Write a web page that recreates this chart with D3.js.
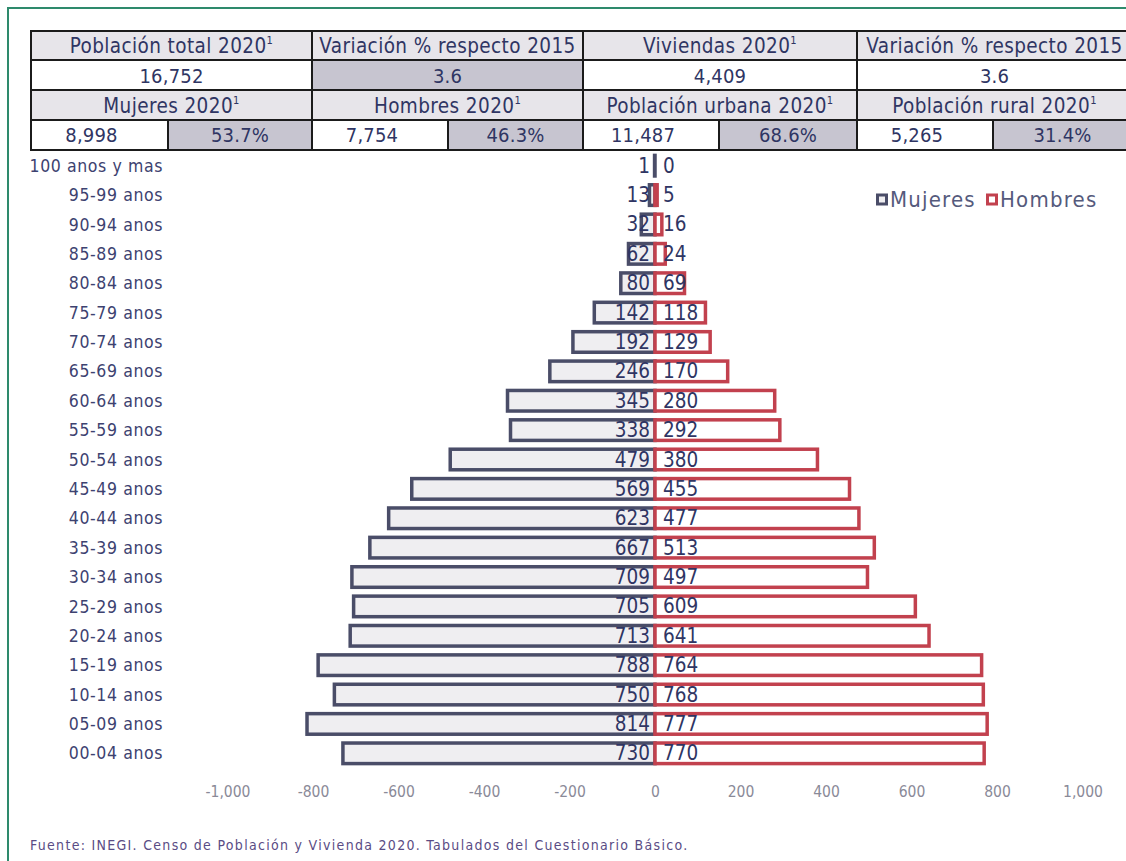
<!DOCTYPE html>
<html><head><meta charset="utf-8">
<script src="https://cdn.jsdelivr.net/npm/d3@7"></script>
<style>
html,body{margin:0;padding:0;background:#fff;}
svg{display:block;}
text{font-family:"Liberation Sans Narrow","DejaVu Sans Condensed","Roboto",sans-serif;}
</style></head>
<body>
<svg id="chart" width="1126" height="861"></svg>
<script>
// ---------- data ----------
const categories = ["100 anos y mas","95-99 anos","90-94 anos","85-89 anos","80-84 anos","75-79 anos","70-74 anos","65-69 anos","60-64 anos","55-59 anos","50-54 anos","45-49 anos","40-44 anos","35-39 anos","30-34 anos","25-29 anos","20-24 anos","15-19 anos","10-14 anos","05-09 anos","00-04 anos"];
const mujeres = [1,13,32,62,80,142,192,246,345,338,479,569,623,667,709,705,713,788,750,814,730];
const hombres = [0,5,16,24,69,118,129,170,280,292,380,455,477,513,497,609,641,764,768,777,770];
const tickValues = [-1000,-800,-600,-400,-200,0,200,400,600,800,1000];
const seriesNames = ["Mujeres","Hombres"];

const headerRow1 = ["Población total 2020","Variación % respecto 2015","Viviendas  2020","Variación % respecto 2015"];
const headerRow1Sup = [true,false,true,false];
const valueRow1 = ["16,752","3.6","4,409","3.6"];
const valueRow1Shaded = [false,true,false,false];
const headerRow2 = ["Mujeres 2020","Hombres 2020","Población urbana 2020","Población rural 2020"];
const valueRow2Count = ["8,998","7,754","11,487","5,265"];
const valueRow2Pct = ["53.7%","46.3%","68.6%","31.4%"];
const footnote = "Fuente: INEGI. Censo de Población y Vivienda 2020. Tabulados del Cuestionario Básico.";

// ---------- styles ----------
const FONT = '"Liberation Sans Narrow","DejaVu Sans Condensed","Roboto",sans-serif';
const textCol = "#2f3563";
const mujStroke = "#4a4d68", mujFill = "#efeef1";
const homStroke = "#c2414e", homFill = "#ffffff";
const headFill = "#e7e5ea", shadeFill = "#c7c5d0";

const svg = d3.select("#chart");

// frame
svg.append("path").attr("d","M8,870 L8,8 L1140,8").attr("fill","none").attr("stroke","#2e8a6c").attr("stroke-width",2);

// ---------- table ----------
const colEdges = [31,312,583,857,1132];
const rowEdges = [31,60,90,120,150];
const subSplit = [168,448,719,993];
const tg = svg.append("g");
function cell(x0,x1,y0,y1,fill){
  tg.append("rect").attr("x",x0).attr("y",y0).attr("width",x1-x0).attr("height",y1-y0)
    .attr("fill",fill).attr("stroke","#1b1b1b").attr("stroke-width",2);
}
function label(x,y,txt,sup,size,ls){
  const t = tg.append("text").attr("x",x).attr("y",y).attr("text-anchor","middle")
    .attr("font-size",size||20.5).attr("letter-spacing",ls==null?0.4:ls).attr("fill",textCol).text(txt);
  if(sup) t.append("tspan").attr("dy",-9).attr("font-size",11).text("1");
}
for(let i=0;i<4;i++){
  const x0=colEdges[i], x1=colEdges[i+1], cx=(x0+x1)/2;
  cell(x0,x1,rowEdges[0],rowEdges[1],headFill);
  label(cx,rowEdges[1]-7,headerRow1[i],headerRow1Sup[i]);
  cell(x0,x1,rowEdges[1],rowEdges[2],valueRow1Shaded[i]?shadeFill:"#fff");
  label(cx,rowEdges[2]-7,valueRow1[i],false,20,0.2);
  cell(x0,x1,rowEdges[2],rowEdges[3],headFill);
  label(cx,rowEdges[3]-7,headerRow2[i],true);
  const xs=subSplit[i];
  cell(x0,xs,rowEdges[3],rowEdges[4],"#fff");
  label((x0+xs)/2-8,rowEdges[4]-8,valueRow2Count[i],false,20,0.2);
  cell(xs,x1,rowEdges[3],rowEdges[4],shadeFill);
  label((xs+x1)/2,rowEdges[4]-8,valueRow2Pct[i],false,20,0.2);
}

// ---------- pyramid ----------
const x = d3.scaleLinear().domain([-1000,1000]).range([227.5,1082.5]);
const y = d3.scaleBand().domain(categories).range([151,768]).paddingInner(0.3).paddingOuter(0.15);

const data = categories.map((c,i)=>({cat:c,m:mujeres[i],h:hombres[i]}));
const pg = svg.append("g");

pg.selectAll("rect.muj").data(data).enter().append("rect").attr("class","muj")
  .attr("x",d=>x(-d.m)).attr("width",d=>x(0)-x(-d.m))
  .attr("y",d=>y(d.cat)).attr("height",y.bandwidth())
  .attr("fill",mujFill).attr("stroke",mujStroke).attr("stroke-width",3.5);
pg.selectAll("rect.hom").data(data).enter().append("rect").attr("class","hom")
  .attr("x",x(0)).attr("width",d=>x(d.h)-x(0))
  .attr("y",d=>y(d.cat)).attr("height",y.bandwidth())
  .attr("fill",homFill).attr("stroke",homStroke).attr("stroke-width",d=>d.h>0?3.5:0);

pg.selectAll("text.mv").data(data).enter().append("text").attr("class","mv")
  .attr("x",x(0)-5).attr("y",d=>y(d.cat)+y.bandwidth()/2+7)
  .attr("text-anchor","end").attr("font-size",20.5).attr("fill",textCol).text(d=>d.m);
pg.selectAll("text.hv").data(data).enter().append("text").attr("class","hv")
  .attr("x",x(0)+8).attr("y",d=>y(d.cat)+y.bandwidth()/2+7)
  .attr("text-anchor","start").attr("font-size",20.5).attr("fill",textCol).text(d=>d.h);

// category axis
const yAxis = d3.axisLeft(y).tickSize(0).tickPadding(0);
const ya = svg.append("g").attr("transform","translate(163,0)").call(yAxis);
ya.select(".domain").remove();
ya.selectAll("text").attr("font-size",17.5).attr("letter-spacing",0.6).attr("fill","#3d4270").attr("dy","0.35em")
  .style("font-family",FONT);

// value axis
const fmt = v => (v<0?"-":"") + d3.format(",")(Math.abs(v));
const xAxis = d3.axisBottom(x).tickValues(tickValues).tickFormat(fmt).tickSize(0).tickPadding(0);
const xa = svg.append("g").attr("transform","translate(0,786)").call(xAxis);
xa.select(".domain").remove();
xa.selectAll("text").attr("font-size",15.5).attr("fill","#8a8a98").attr("dy","0.7em")
  .style("font-family",FONT);

// legend
const lg = svg.append("g").attr("transform","translate(876,200)");
const legendItems = [{n:seriesNames[0],s:mujStroke,f:mujFill,x:0},{n:seriesNames[1],s:homStroke,f:homFill,x:110}];
legendItems.forEach(it=>{
  lg.append("rect").attr("x",it.x+1.5).attr("y",-5).attr("width",9).attr("height",9)
    .attr("fill",it.f).attr("stroke",it.s).attr("stroke-width",3);
  lg.append("text").attr("x",it.x+14).attr("y",7).attr("font-size",22).attr("letter-spacing",1.2)
    .attr("fill","#555a7c").text(it.n);
});

// footnote
svg.append("text").attr("x",30).attr("y",850).attr("font-size",14).attr("letter-spacing",1.3)
  .attr("fill","#5a4c84").text(footnote);
</script>
</body></html>
